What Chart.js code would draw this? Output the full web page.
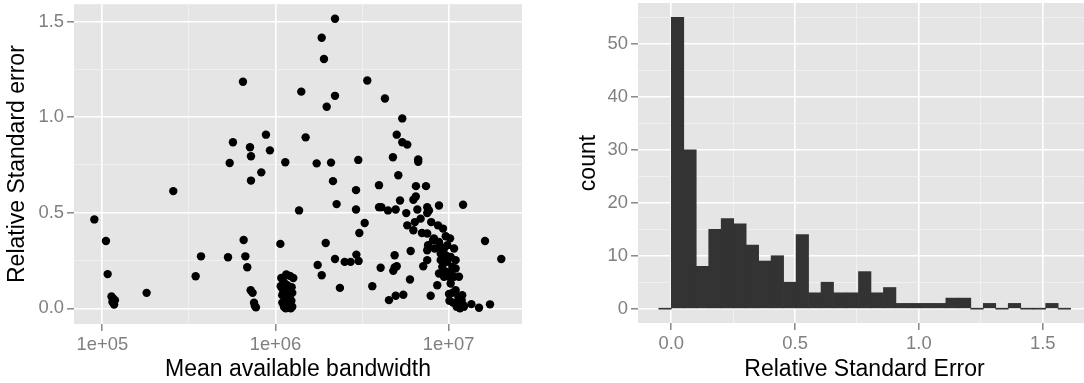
<!DOCTYPE html>
<html>
<head>
<meta charset="utf-8">
<script src="https://cdn.jsdelivr.net/npm/chart.js@4.4.1/dist/chart.umd.min.js"></script>
<style>
  html, body { margin: 0; padding: 0; background: #fff; overflow: hidden; }
  #wrap { position: relative; width: 1084px; height: 383px; overflow: hidden; }
  #left { position: absolute; left: 0; top: 0; }
  #right { position: absolute; left: 540px; top: 0; }
</style>
</head>
<body>
<div id="wrap">
  <canvas id="left" width="540" height="383"></canvas>
  <canvas id="right" width="551" height="383"></canvas>
</div>
<script>
// scatter: mean available bandwidth vs relative standard error
const bandwidth = [
  90000, 105000, 107400, 113000, 115300, 118300, 114500, 117000, 180300, 257000,
  346000, 371500, 532000, 544000, 568000, 649000, 655000, 670000, 687000, 712600,
  722000, 722000, 719000, 738000, 752000, 760000, 771000, 828000, 881000, 929000,
  1067000, 1154000, 1080000, 1267000, 1072000, 1169000, 1250000, 1094000, 1146000, 1197000,
  1119000, 1225000, 1146000, 1250000, 1109000, 1175000, 1120000, 1160000, 1215000, 1180000,
  1139000, 1368000, 1409000, 1493000, 1729000, 1752000, 1848000, 1849000, 1905000, 1950000,
  1975000, 2092000, 2148000, 2206000, 2206000, 2206000, 2254000, 2355000, 2508000, 2716000,
  2917000, 2917000, 2931000, 3006000, 3020000, 3048000, 3273000, 3388000, 3622000, 3959000,
  3963000, 4083000, 4046000, 4285000, 4461000, 4519000, 4764000, 4786000, 4875000, 4875000,
  4943000, 4943000, 5012000, 5012000, 5117000, 5236000, 5395000, 5395000, 5470000, 5689000,
  5768000, 5768000, 5978000, 6033000, 6252000, 6252000, 6383000, 6457000, 6471000, 6592000,
  6668000, 6668000, 6887000, 7007000, 7129000, 7396000, 7516000, 7516000, 7516000, 7516000,
  7516000, 7603000, 7691000, 7870000, 7925000, 8128000, 8222000, 8299000, 8590000, 8670000,
  8790000, 8790000, 8790000, 8995000, 8995000, 8995000, 9183000, 9268000, 9397000, 9397000,
  9616000, 9616000, 9616000, 9817000, 9817000, 10046000, 10046000, 10186000, 10268000, 10268000,
  10268000, 10495000, 10495000, 10740000, 10740000, 10965000, 10965000, 10965000, 11469000, 11469000,
  11469000, 11722000, 11967000, 12106000, 12246000, 13521000, 14962000, 16205000, 17317000, 20120000,
  11376000, 11885000, 12134000, 11614000, 11117000, 1100000, 1130000, 1200000, 1240000, 1130000,
  1210000, 1160000, 1095000, 1235000, 10100000, 10600000, 11200000
];
const relStdError = [
  0.465, 0.352, 0.179, 0.062, 0.052, 0.043, 0.033, 0.020, 0.081, 0.613,
  0.168, 0.272, 0.267, 0.760, 0.868, 1.185, 0.357, 0.272, 0.215, 0.842,
  0.795, 0.668, 0.095, 0.081, 0.029, 0.013, 0.005, 0.711, 0.908, 0.826,
  0.337, 0.177, 0.159, 0.159, 0.116, 0.121, 0.081, 0.069, 0.052, 0.026,
  0.008, 0.000, 0.000, 0.008, 0.140, 0.095, 0.090, 0.035, 0.045, 0.012,
  0.764, 0.512, 1.133, 0.894, 0.758, 0.227, 1.415, 0.173, 1.304, 0.342,
  1.054, 0.762, 0.665, 1.514, 1.111, 0.258, 0.545, 0.107, 0.243, 0.243,
  0.618, 0.517, 0.281, 0.776, 0.248, 0.394, 0.446, 1.191, 0.116, 0.644,
  0.529, 0.529, 0.212, 1.097, 0.512, 0.043, 0.790, 0.196, 0.278, 0.214,
  0.517, 0.066, 0.908, 0.220, 0.696, 0.564, 0.993, 0.868, 0.071, 0.498,
  0.856, 0.434, 0.151, 0.300, 0.568, 0.408, 0.451, 0.585, 0.639, 0.517,
  0.779, 0.766, 0.469, 0.394, 0.220, 0.639, 0.529, 0.498, 0.391, 0.304,
  0.252, 0.330, 0.512, 0.066, 0.451, 0.356, 0.365, 0.313, 0.121, 0.434,
  0.538, 0.347, 0.182, 0.321, 0.286, 0.252, 0.217, 0.417, 0.313, 0.165,
  0.377, 0.278, 0.191, 0.330, 0.243, 0.075, 0.165, 0.366, 0.269, 0.191,
  0.130, 0.217, 0.081, 0.313, 0.165, 0.252, 0.208, 0.095, 0.165, 0.043,
  0.026, 0.008, 0.069, 0.542, 0.008, 0.022, 0.003, 0.352, 0.021, 0.258,
  0.060, 0.043, 0.017, 0.000, 0.008, 0.100, 0.130, 0.065, 0.110, 0.020,
  0.170, 0.080, 0.030, 0.040, 0.040, 0.030, 0.020
];

// histogram of relative standard error (bin centres and counts)
const binCenters = [
  -0.0252, 0.0252, 0.0756, 0.126, 0.1764, 0.2268, 0.2772, 0.3276, 0.378, 0.4284,
  0.4788, 0.5292, 0.5796, 0.63, 0.6804, 0.7308, 0.7812, 0.8316, 0.882, 0.9324,
  0.9828, 1.0332, 1.0836, 1.134, 1.1844, 1.2348, 1.2852, 1.3356, 1.386, 1.4364,
  1.4868, 1.5372, 1.5876
];
const binCounts = [
  0, 55, 30, 8, 15, 17, 16, 12, 9, 10,
  5, 14, 3, 5, 3, 3, 7, 3, 4, 1,
  1, 1, 1, 2, 2, 0, 1, 0, 1, 0,
  0, 1, 0
];

// ticks
const bwMajor = [1e5, 1e6, 1e7];
const bwMinor = [Math.pow(10, 5.5), Math.pow(10, 6.5)];
const bwLabels = {100000: '1e+05', 1000000: '1e+06', 10000000: '1e+07'};
const rseMajor = [0, 0.5, 1.0, 1.5];
const rseMinor = [0.25, 0.75, 1.25];
const countMajor = [0, 10, 20, 30, 40, 50];
const countMinor = [5, 15, 25, 35, 45, 55];
const histXMajor = [0, 0.5, 1.0, 1.5];
const histXMinor = [0.25, 0.75, 1.25];

const FONT = "'Liberation Sans', Arial, Helvetica, sans-serif";
const GREY = '#7F7F7F';

const panelBg = {
  id: 'panelBg',
  beforeDraw(chart) {
    const { ctx, chartArea: a } = chart;
    ctx.save();
    ctx.fillStyle = '#E5E5E5';
    ctx.fillRect(a.left, a.top, a.right - a.left, a.bottom - a.top);
    ctx.restore();
  }
};

function ggAxis(major, minor, fmt, extra) {
  const isMajor = v => major.some(m => Math.abs(m - v) < 1e-9 * Math.max(1, Math.abs(m)));
  return Object.assign({
    afterBuildTicks: s => {
      s.ticks = major.concat(minor).sort((a, b) => a - b).map(v => ({ value: v }));
    },
    border: { display: false },
    grid: {
      offset: false,
      color: c => (c.tick && isMajor(c.tick.value)) ? '#FFFFFF' : '#F2F2F2',
      lineWidth: c => (c.tick && isMajor(c.tick.value)) ? 1.6 : 0.8,
      tickColor: c => (c.tick && isMajor(c.tick.value)) ? GREY : 'rgba(0,0,0,0)',
      tickWidth: 1.4,
      tickLength: 7
    },
    ticks: {
      autoSkip: false,
      maxRotation: 0,
      padding: 3,
      color: GREY,
      font: { family: FONT, size: 18.4 },
      callback: v => isMajor(v) ? fmt(v) : ''
    }
  }, extra);
}

function fixSize(prop, size) {
  return s => {
    s[prop] = size;
    s.paddingTop = 0; s.paddingBottom = 0; s.paddingLeft = 0; s.paddingRight = 0;
  };
}

function axisTitle(text, pad) {
  return { display: true, text: text, color: '#000', font: { family: FONT, size: 23 }, padding: pad };
}

new Chart(document.getElementById('left'), {
  type: 'scatter',
  data: {
    datasets: [{
      data: bandwidth.map((b, i) => ({ x: b, y: relStdError[i] })),
      backgroundColor: '#000',
      borderWidth: 0,
      pointRadius: 4.2
    }]
  },
  options: {
    responsive: false,
    animation: false,
    layout: { padding: { top: 3, right: 18, left: 0, bottom: 0 } },
    plugins: { legend: { display: false }, tooltip: { enabled: false } },
    scales: {
      x: ggAxis(bwMajor, bwMinor, v => bwLabels[Math.round(v)] || '', {
        type: 'logarithmic',
        min: 68660,
        max: 26500000,
        afterFit: fixSize('height', 59),
        title: axisTitle('Mean available bandwidth', { top: 0, bottom: 0 })
      }),
      y: ggAxis(rseMajor, rseMinor, v => v.toFixed(1), {
        type: 'linear',
        min: -0.0818,
        max: 1.5901,
        afterFit: fixSize('width', 74),
        title: axisTitle('Relative Standard error', { top: 4, bottom: 0 })
      })
    }
  },
  plugins: [panelBg]
});

new Chart(document.getElementById('right'), {
  type: 'bar',
  data: {
    datasets: [{
      data: binCenters.map((c, i) => ({ x: c, y: binCounts[i] })),
      backgroundColor: '#333333',
      borderWidth: 0,
      barPercentage: 1,
      categoryPercentage: 1,
      minBarLength: 1
    }]
  },
  options: {
    responsive: false,
    animation: false,
    layout: { padding: { top: 3, right: 0, left: 0, bottom: 0 } },
    plugins: { legend: { display: false }, tooltip: { enabled: false } },
    scales: {
      x: ggAxis(histXMajor, histXMinor, v => v.toFixed(1), {
        type: 'linear',
        offset: false,
        min: -0.1344,
        max: 1.695,
        afterFit: fixSize('height', 60),
        title: axisTitle('Relative Standard Error', { top: 0, bottom: 0 })
      }),
      y: ggAxis(countMajor, countMinor, v => String(v), {
        type: 'linear',
        min: -2.7,
        max: 57.7,
        afterFit: fixSize('width', 98),
        title: axisTitle('count', { top: 34.7, bottom: 0 })
      })
    }
  },
  plugins: [panelBg]
});
</script>
</body>
</html>
